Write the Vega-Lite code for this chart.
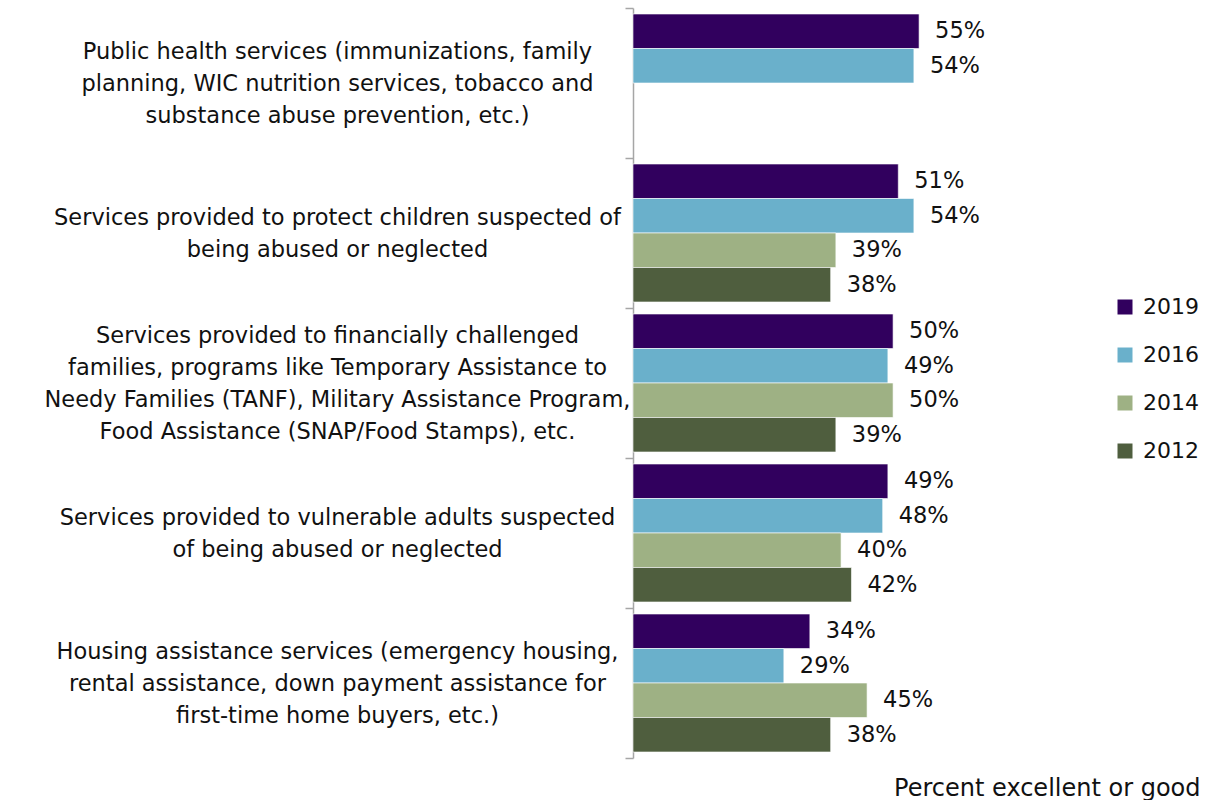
{
  "$schema": "https://vega.github.io/schema/vega-lite/v6.json",
  "autosize": {"type": "none"},
  "width": 567,
  "height": 750,
  "padding": {"left": 633, "top": 8, "right": 11, "bottom": 42},
  "background": "white",
  "config": {
    "view": {"stroke": null},
    "font": "DejaVu Sans",
    "text": {"font": "DejaVu Sans"}
  },
  "data": {
    "values": [
      {"label": "Public health services (immunizations, family|planning, WIC nutrition services, tobacco and|substance abuse prevention, etc.)", "year": "2019", "value": 0.55},
      {"label": "Public health services (immunizations, family|planning, WIC nutrition services, tobacco and|substance abuse prevention, etc.)", "year": "2016", "value": 0.54},
      {"label": "Services provided to protect children suspected of|being abused or neglected", "year": "2019", "value": 0.51},
      {"label": "Services provided to protect children suspected of|being abused or neglected", "year": "2016", "value": 0.54},
      {"label": "Services provided to protect children suspected of|being abused or neglected", "year": "2014", "value": 0.39},
      {"label": "Services provided to protect children suspected of|being abused or neglected", "year": "2012", "value": 0.38},
      {"label": "Services provided to financially challenged|families, programs like Temporary Assistance to|Needy Families (TANF), Military Assistance Program,|Food Assistance (SNAP/Food Stamps), etc.", "year": "2019", "value": 0.50},
      {"label": "Services provided to financially challenged|families, programs like Temporary Assistance to|Needy Families (TANF), Military Assistance Program,|Food Assistance (SNAP/Food Stamps), etc.", "year": "2016", "value": 0.49},
      {"label": "Services provided to financially challenged|families, programs like Temporary Assistance to|Needy Families (TANF), Military Assistance Program,|Food Assistance (SNAP/Food Stamps), etc.", "year": "2014", "value": 0.50},
      {"label": "Services provided to financially challenged|families, programs like Temporary Assistance to|Needy Families (TANF), Military Assistance Program,|Food Assistance (SNAP/Food Stamps), etc.", "year": "2012", "value": 0.39},
      {"label": "Services provided to vulnerable adults suspected|of being abused or neglected", "year": "2019", "value": 0.49},
      {"label": "Services provided to vulnerable adults suspected|of being abused or neglected", "year": "2016", "value": 0.48},
      {"label": "Services provided to vulnerable adults suspected|of being abused or neglected", "year": "2014", "value": 0.40},
      {"label": "Services provided to vulnerable adults suspected|of being abused or neglected", "year": "2012", "value": 0.42},
      {"label": "Housing assistance services (emergency housing,|rental assistance, down payment assistance for|first-time home buyers, etc.)", "year": "2019", "value": 0.34},
      {"label": "Housing assistance services (emergency housing,|rental assistance, down payment assistance for|first-time home buyers, etc.)", "year": "2016", "value": 0.29},
      {"label": "Housing assistance services (emergency housing,|rental assistance, down payment assistance for|first-time home buyers, etc.)", "year": "2014", "value": 0.45},
      {"label": "Housing assistance services (emergency housing,|rental assistance, down payment assistance for|first-time home buyers, etc.)", "year": "2012", "value": 0.38}
    ]
  },
  "encoding": {
    "y": {
      "field": "label",
      "type": "nominal",
      "sort": null,
      "scale": {"paddingInner": 0, "paddingOuter": 0},
      "axis": {
        "title": null,
        "labelExpr": "split(join(split(datum.label, '|'), (indexof(datum.label, 'Public') == 0 ? '' : indexof(datum.label, 'Services provided to vulnerable') == 0 ? '\u00a0\u00a0\u00a0\u00a0\u00a0\u00a0' : indexof(datum.label, 'Housing') == 0 ? '\u00a0\u00a0\u00a0\u00a0\u00a0\u00a0\u00a0' : '\u00a0\u00a0\u00a0\u00a0\u00a0\u00a0\u00a0\u00a0') + '|') + (indexof(datum.label, 'Public') == 0 ? '' : indexof(datum.label, 'Services provided to vulnerable') == 0 ? '\u00a0\u00a0\u00a0\u00a0\u00a0\u00a0' : indexof(datum.label, 'Housing') == 0 ? '\u00a0\u00a0\u00a0\u00a0\u00a0\u00a0\u00a0' : '\u00a0\u00a0\u00a0\u00a0\u00a0\u00a0\u00a0\u00a0'), '|')",
        "labelAlign": "center",
        "labelBaseline": "middle",
        "labelPadding": 288,
        "labelFontSize": 22.5,
        "labelLineHeight": 32,
        "labelColor": "#111111",
        "labelLimit": 0,
        "labelOverlap": false,
        "labelFont": "DejaVu Sans",
        "labelOffset": {
          "condition": [
            {"test": "length(split(datum.value, '|')) == 4", "value": -48},
            {"test": "length(split(datum.value, '|')) == 3", "value": -32}
          ],
          "value": -16
        },
        "tickBand": "extent",
        "tickSize": 8,
        "tickColor": "#a6a6a6",
        "tickWidth": 1.5,
        "domainColor": "#a6a6a6",
        "domainWidth": 1.5,
        "grid": false
      }
    },
    "yOffset": {
      "field": "year",
      "type": "nominal",
      "scale": {"domain": ["2019", "2016", "2014", "2012"], "paddingInner": 0, "paddingOuter": 0.174}
    },
    "x": {
      "field": "value",
      "type": "quantitative",
      "scale": {"domain": [0, 1.09], "nice": false, "zero": true},
      "axis": {
        "title": "Percent excellent or good",
        "titleAnchor": "end",
        "titleAlign": "right",
        "titleBaseline": "alphabetic",
        "titleY": 37,
        "titleX": 567,
        "titleFontSize": 24,
        "titleFontWeight": "normal",
        "titleColor": "#111111",
        "titleFont": "DejaVu Sans",
        "labels": false,
        "ticks": false,
        "domain": false,
        "grid": false
      }
    }
  },
  "layer": [
    {
      "mark": {"type": "bar", "stroke": "#ffffff", "strokeWidth": 1, "strokeOpacity": 0.6},
      "encoding": {
        "color": {
          "field": "year",
          "type": "nominal",
          "scale": {"domain": ["2019", "2016", "2014", "2012"], "range": ["#31005E", "#6AB0CB", "#9EB184", "#4F5E3E"]},
          "legend": {
            "title": null,
            "orient": "none",
            "legendX": 481,
            "legendY": 288,
            "symbolType": "square",
            "symbolSize": 225,
            "symbolStrokeWidth": 0,
            "labelFontSize": 22,
            "labelFont": "DejaVu Sans",
            "labelColor": "#111111",
            "labelOffset": 7,
            "rowPadding": 26
          }
        }
      }
    },
    {
      "mark": {"type": "text", "align": "left", "baseline": "middle", "dx": 16, "fontSize": 22.5, "color": "#111111"},
      "encoding": {
        "text": {"field": "value", "type": "quantitative", "format": ".0%"}
      }
    }
  ]
}
